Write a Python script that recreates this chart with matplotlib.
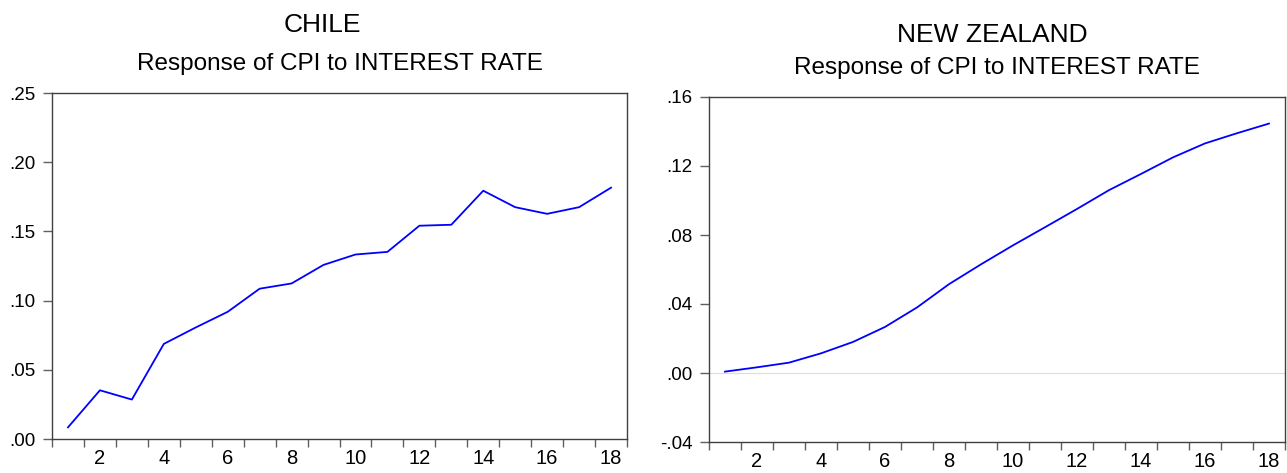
import numpy as np
import matplotlib
matplotlib.use("Agg")
import matplotlib.pyplot as plt
from matplotlib.ticker import FuncFormatter

plt.rcParams['font.family'] = ['Liberation Sans', 'DejaVu Sans']

# impulse responses, periods 1..18
periods = list(range(1, 19))
chile_cpi = [0.0084, 0.0352, 0.0285, 0.0687, 0.0806, 0.0919, 0.1086, 0.1124, 0.1258,
             0.1333, 0.1352, 0.1541, 0.1548, 0.1794, 0.1675, 0.1627, 0.1675, 0.1816]
nz_cpi = [0.0008, 0.0033, 0.0060, 0.0114, 0.0180, 0.0267, 0.0380, 0.0515, 0.0630,
          0.0740, 0.0845, 0.0951, 0.1060, 0.1154, 0.1250, 0.1331, 0.1390, 0.1446]

chile_yticks = [0.00, 0.05, 0.10, 0.15, 0.20, 0.25]
nz_yticks = [-0.04, 0.00, 0.04, 0.08, 0.12, 0.16]
xlabels = [2, 4, 6, 8, 10, 12, 14, 16, 18]


def no_lead_zero(v, pos=None):
    s = "%.2f" % v
    if s.startswith("-0"):
        return "-" + s[2:]
    if s.startswith("0"):
        return s[1:]
    return s


def style_axis(ax, yticks):
    ax.set_xlim(0.5, 18.5)
    ax.set_ylim(yticks[0], yticks[-1])
    ax.set_yticks(yticks)
    ax.yaxis.set_major_formatter(FuncFormatter(no_lead_zero))
    # labels sit between period boundaries, ticks mark the boundaries
    ax.set_xticks(xlabels)
    ax.set_xticks(np.arange(0.5, 19, 1), minor=True)
    ax.tick_params(axis='x', which='major', length=0, pad=7, labelsize=14.5)
    ax.tick_params(axis='x', which='minor', length=5.5, width=1, color='#606060')
    ax.tick_params(axis='y', which='major', length=6.5, width=1, color='#606060',
                   pad=5.5, labelsize=13.5)
    for sp in ax.spines.values():
        sp.set_color('#404040')
        sp.set_linewidth(1)


fig = plt.figure(figsize=(12.87, 4.73), dpi=100)
W, H = 1287.0, 473.0

ax1 = fig.add_axes([52 / W, (H - 439) / H, 575 / W, 346 / H])
ax1.plot(periods, chile_cpi, color='#0000ff', lw=1.3)
style_axis(ax1, chile_yticks)

ax2 = fig.add_axes([709 / W, (H - 442) / H, 576 / W, 345 / H])
ax2.axhline(0, color='#dcdcdc', lw=0.8, zorder=1)
ax2.plot(periods, nz_cpi, color='#0000ff', lw=1.3, zorder=2)
style_axis(ax2, nz_yticks)

# country titles and subtitles
fig.text(322 / W, (H - 32) / H, "CHILE", ha='center', va='baseline', fontsize=19)
fig.text(340 / W, (H - 70) / H, "Response of CPI to INTEREST RATE",
         ha='center', va='baseline', fontsize=17.5)
fig.text(992 / W, (H - 42) / H, "NEW ZEALAND", ha='center', va='baseline', fontsize=19)
fig.text(997 / W, (H - 74) / H, "Response of CPI to INTEREST RATE",
         ha='center', va='baseline', fontsize=17.5)

fig.savefig("out.png", dpi=100)
